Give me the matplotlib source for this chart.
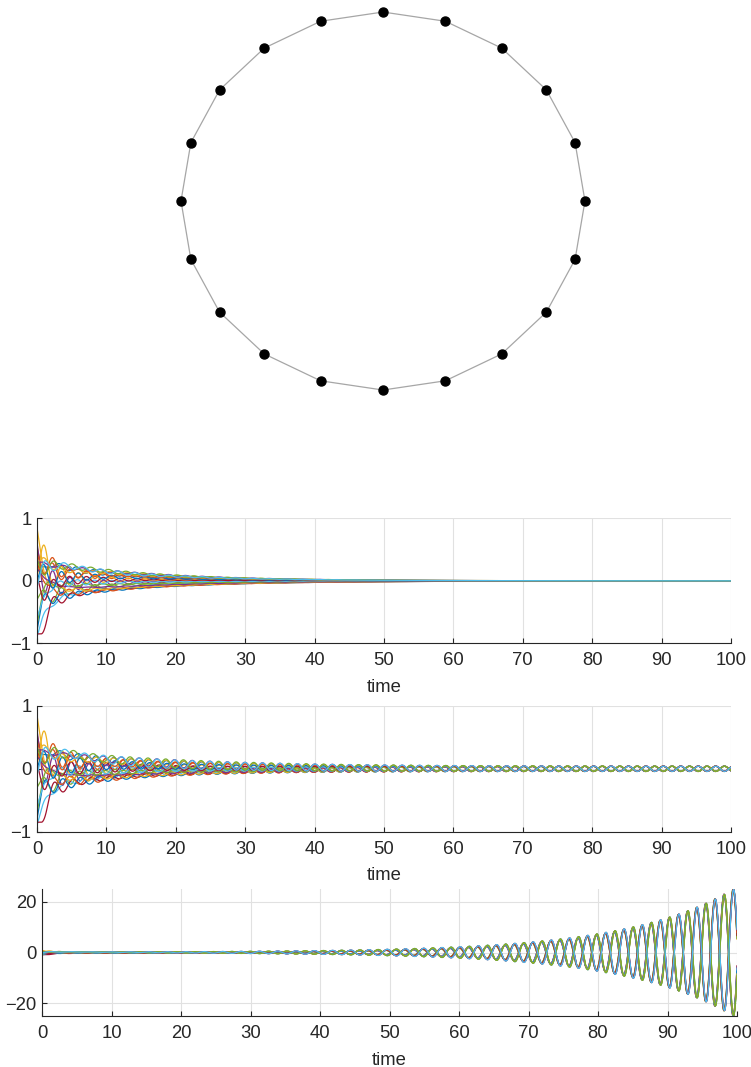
import numpy as np
import matplotlib
matplotlib.use("Agg")
import matplotlib.pyplot as plt

# Ring network of 20 agents; initial states of agents 1..20 in ring order
x0 = [0.20, 0.55, 0.05, 0.62, -0.30, -0.90, -0.85, -0.80, 0.30, 0.85,
      0.20, -0.70, -0.60, 0.10, 0.00, 0.45, 0.25, 0.30, 0.35, -0.10]
n_agents = len(x0)
edges = [(i, (i + 1) % n_agents) for i in range(n_agents)]

# delayed consensus  x_i'(t) = -k * sum_j (x_i(t-tau) - x_j(t-tau))
gain = 0.625
delays = [0.59, np.pi / 5, 0.6672]    # below, at and above the critical delay
t_end = 100.0

time_ticks = [0, 10, 20, 30, 40, 50, 60, 70, 80, 90, 100]
y_ticks = [[-1, 0, 1], [-1, 0, 1], [-20, 0, 20]]
y_limits = [(-1, 1), (-1, 1), None]

matlab_colors = ["#0072BD", "#D95319", "#EDB120", "#7E2F8E",
                 "#77AC30", "#4DBEEE", "#A2142F"]

plt.rcParams["font.family"] = ["Liberation Sans", "DejaVu Sans"]

# graph Laplacian of the ring
L = np.zeros((n_agents, n_agents))
for a, b in edges:
    L[a, a] += 1
    L[b, b] += 1
    L[a, b] -= 1
    L[b, a] -= 1


def simulate(tau, m=100):
    dt = tau / m
    n = int(np.ceil(t_end / dt))
    X = np.empty((n + 1 + m, n_agents))
    X[:m + 1] = np.asarray(x0)          # constant history on [-tau, 0]
    K = gain * dt * 0.5 * L
    for j in range(m, m + n):
        X[j + 1] = X[j] - K @ (X[j + 1 - m] + X[j - m])
    t = np.arange(n + 1) * dt
    return t, X[m:]


W, H = 751, 1067
fig = plt.figure(figsize=(W / 100, H / 100), dpi=100)

# ---- ring graph ----
ax0 = fig.add_axes([0.2141, 0.6256, 0.5917, 0.372])
ang = np.pi / 2 - 2 * np.pi * np.arange(n_agents) / n_agents
px, py = np.cos(ang), np.sin(ang)
for a, b in edges:
    ax0.plot([px[a], px[b]], [py[a], py[b]], color="#a6a6a6", lw=0.9,
             solid_capstyle="round", zorder=1)
ax0.plot(px, py, "o", color="black", ms=6.5, zorder=2, clip_on=False)
ax0.set_xlim(-1.1, 1.1)
ax0.set_ylim(-1.05, 1.05)
ax0.axis("off")

# ---- time responses ----
boxes = [
    [37 / W, (H - 643.3) / H, 694 / W, 125 / H],
    [37 / W, (H - 831.7) / H, 694 / W, 126 / H],
    [42 / W, (H - 1016) / H, 695 / W, 127 / H],
]
dark = "#262626"
for k, (tau, box) in enumerate(zip(delays, boxes)):
    ax = fig.add_axes(box)
    t, X = simulate(tau)
    keep = t <= t_end + 1e-9
    for i in range(n_agents):
        ax.plot(t[keep], X[keep, i], color=matlab_colors[i % 7], lw=0.9)
    ax.set_xlim(0, t_end)
    if y_limits[k] is None:
        ax.set_ylim(X[keep].min(), X[keep].max())
    else:
        ax.set_ylim(*y_limits[k])
    ax.set_xticks(time_ticks)
    ax.set_yticks(y_ticks[k])
    ax.grid(True, color="#e1e1e1", lw=0.8)
    ax.set_axisbelow(True)
    for s in ("top", "right"):
        ax.spines[s].set_visible(False)
    for s in ("left", "bottom"):
        ax.spines[s].set_color(dark)
        ax.spines[s].set_linewidth(0.8)
    ax.tick_params(direction="in", length=3.5, width=0.8, colors=dark,
                   labelsize=13.3, pad=6.5)
    ax.tick_params(axis="y", pad=4)
    ax.set_xlabel("time", fontsize=13.3, color=dark, labelpad=7)

fig.savefig("out.png", dpi=100)
